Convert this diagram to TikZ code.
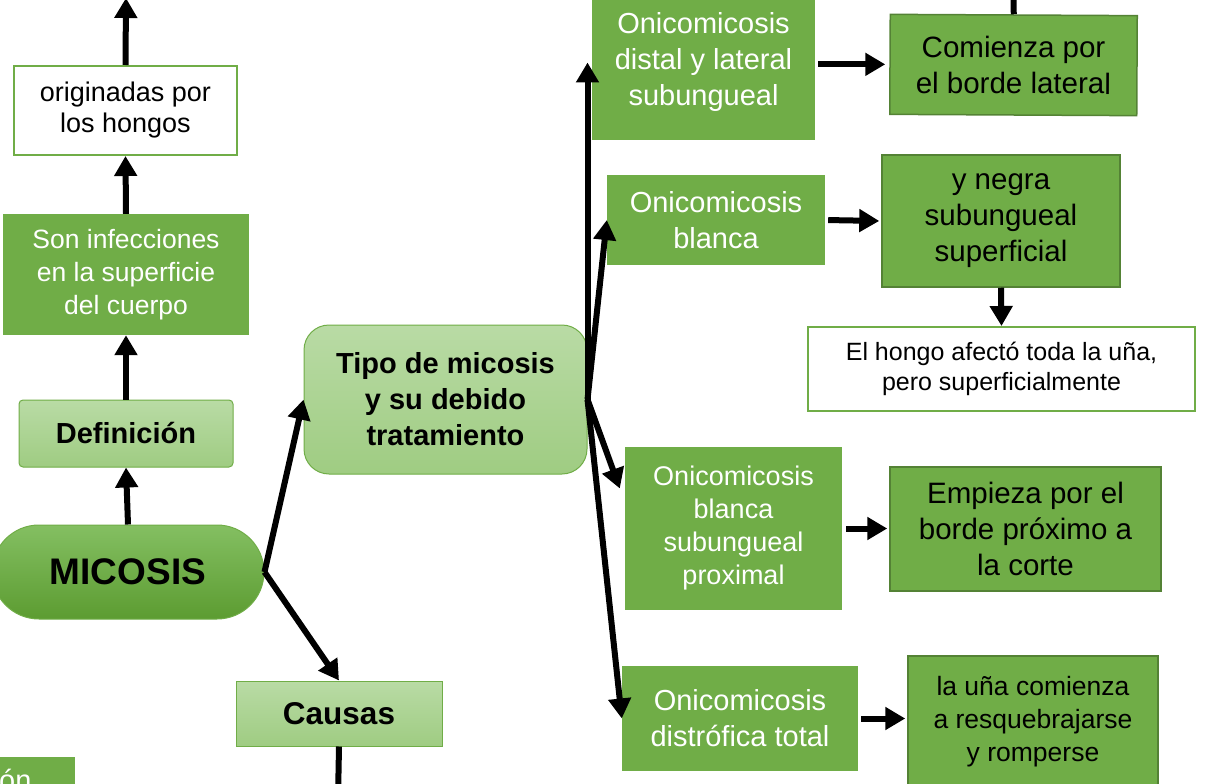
\documentclass[tikz,border=0pt]{standalone}
\usepackage{fontspec}
\setmainfont{Liberation Sans}
\usetikzlibrary{positioning}
\usetikzlibrary{arrows.meta}
\usetikzlibrary{calc}
\definecolor{mgreen}{HTML}{70AD47}
\definecolor{mdark}{HTML}{548235}
\definecolor{mlighttop}{HTML}{B9DBA5}
\definecolor{mlightbot}{HTML}{9FCC82}
\definecolor{mpilltop}{HTML}{84BF62}
\definecolor{mpillbot}{HTML}{5C9C31}
\tikzset{>={Triangle[length=20pt,width=22pt]}}
\tikzstyle{typenode}=[fill=mgreen,text=white,align=center,inner sep=0pt,font=\fontsize{29}{36}\selectfont]
\tikzstyle{descnode}=[fill=mgreen,draw=mdark,line width=1.5pt,text=black,align=center,inner sep=0pt,font=\fontsize{29.5}{36}\selectfont]
\tikzstyle{headnode}=[top color=mlighttop,bottom color=mlightbot,draw=mgreen,line width=1pt,align=center,inner sep=0pt,font=\bfseries\fontsize{29}{36}\selectfont]
\tikzstyle{notenode}=[fill=white,draw=mgreen,line width=2pt,align=center,inner sep=0pt]
\tikzstyle{marr}=[->,line width=6pt,color=black]

\begin{document}
\begin{tikzpicture}[x=1pt,y=-1pt]
	\useasboundingbox (0,0) rectangle (1205,784);

	% Definicion
	\node[notenode,minimum width=223,minimum height=89,font=\fontsize{27}{31}\selectfont] (orig) at (125.5,110.5) {originadas por\\los hongos};
	\node[typenode,minimum width=246,minimum height=121,font=\fontsize{26.5}{33}\selectfont] (sup) at (126,274.5) {Son infecciones\\en la superficie\\del cuerpo};
	\node[headnode,minimum width=214,minimum height=67,rounded corners=4pt] (defi) at (126,433.5) {Definición};
	\node[top color=mpilltop,bottom color=mpillbot,draw=mgreen,line width=1pt,minimum width=272,minimum height=94,rounded corners=47pt,inner sep=0pt,font=\bfseries\fontsize{37}{40}\selectfont] (mico) at (128,572) {MICOSIS};
	\coordinate (origtop) at (126,-2);
	\draw[marr] (orig.north) -- (origtop);
	\draw[marr] (sup.north) -- (orig.south);
	\draw[marr] (defi.north) -- (sup.south);
	\draw[marr] (mico.north) -- (defi.south);

	% Causas
	\node[headnode,minimum width=206,minimum height=65,font=\bfseries\fontsize{31.5}{36}\selectfont] (causas) at (339,713.5) {Causas};
	\coordinate (causbot) at (338,800);
	\draw[marr] (mico.east) -- (causas.north);
	\draw[line width=6pt] (causas.south) -- (causbot);
	\node[typenode,anchor=north west,text width=74,align=left,inner xsep=2pt,text height=33,text depth=10] (blbox) at (-3,757) {ón};

	% Tipos
	\node[headnode,minimum width=283,minimum height=149,rounded corners=25pt] (tipo) at (445.5,399.5) {Tipo de micosis\\y su debido\\tratamiento};
	\draw[marr] (mico.east) -- (tipo.west);

	\node[typenode,minimum width=223,minimum height=155] (distal) at (703.5,62.5) {Onicomicosis\\distal y lateral\\subungueal};
	\node[typenode,minimum width=218,minimum height=90] (blanca) at (716,220) {Onicomicosis\\blanca};
	\node[typenode,minimum width=217,minimum height=163,font=\fontsize{27}{33}\selectfont] (proximal) at (733.5,528.5) {Onicomicosis\\blanca\\subungueal\\proximal};
	\node[typenode,minimum width=236,minimum height=105] (distr) at (740,718.5) {Onicomicosis\\distrófica total};
	\coordinate (proxin) at ($(proximal.west)+(-5,-40)$);
	\draw[marr] (tipo.east) -- (tipo.east |- distal.west);
	\draw[marr] (tipo.east) -- (blanca.west);
	\draw[marr] (tipo.east) -- (proxin);
	\draw[marr] (tipo.east) -- (distr.west);

	% Descripciones
	\node[descnode,minimum width=247,minimum height=100,rotate=-0.3] (comienza) at (1013.5,65) {Comienza por\\el borde lateral};
	\node[descnode,minimum width=238,minimum height=132] (negra) at (1001,221) {y negra\\subungueal\\superficial};
	\node[notenode,minimum width=387,minimum height=84,font=\fontsize{25}{30}\selectfont] (hongo) at (1001.5,369) {El hongo afectó toda la uña,\\pero superficialmente};
	\node[descnode,minimum width=271,minimum height=124] (empieza) at (1025.5,529) {Empieza por el\\borde próximo a\\la corte};
	\node[descnode,minimum width=250,minimum height=132,font=\fontsize{26.5}{33}\selectfont] (romper) at (1033,722) {la uña comienza\\a resquebrajarse\\y romperse};
	\coordinate (comtop) at (1013,-40);
	\draw[marr] (comienza.north) -- (comtop);
	\draw[marr,shorten >=4pt] (distal.east |- comienza.west) ++(3,0) -- (comienza.west);
	\draw[marr,shorten <=3pt,shorten >=2pt] (blanca.east) -- (negra.west);
	\draw[marr] (negra.south) -- (hongo.north);
	\draw[marr,shorten <=4pt,shorten >=2pt] (proximal.east) -- (proximal.east -| empieza.west);
	\draw[marr,shorten <=3pt,shorten >=2pt] (distr.east) -- (distr.east -| romper.west);

\end{tikzpicture}
\end{document}
